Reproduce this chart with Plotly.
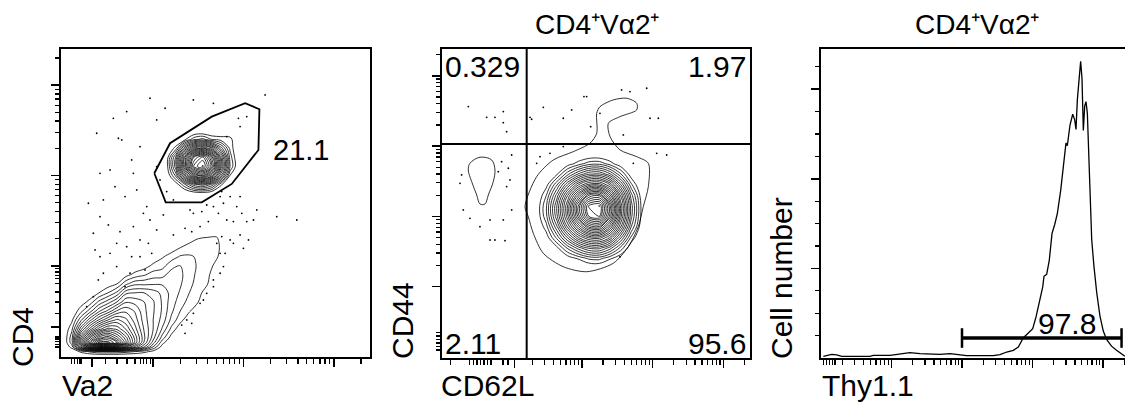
import numpy as np
import plotly.graph_objects as go

FONT = "Arial, Liberation Sans, sans-serif"
W, H = 1125, 413
FS = 30
FS_TITLE = 28

# ---------------- Panel 1 : Va2 (x) vs CD4 (y); values in decade display units ----------------
P1_LOW_X = [2.0, 2.1, 2.2, 2.3, 2.4, 2.5, 2.6, 2.7, 2.8, 2.9, 3.0, 3.1, 3.2, 3.3, 3.4, 3.5, 3.6, 3.7, 3.8, 3.9]
P1_LOW_Y = [2.0, 2.05, 2.1, 2.15, 2.2, 2.3, 2.4, 2.5, 2.6, 2.7, 2.8, 2.9, 3.0, 3.1, 3.2, 3.3, 3.4, 3.5]
# contour depth (number of enclosing contour lines), one list per x column, bottom to top
P1_LOW_DEPTH_BY_COLUMN = [
    [0, 0, 0, 0, 0, 0, 0, 0, 0, 0, 0, 0, 0, 0, 0, 0, 0, 0],
    [0, 0.2, 1.3, 2.2, 2.3, 1.6, 0.8, 0.2, 0, 0, 0, 0, 0, 0, 0, 0, 0, 0],
    [0, 1.2, 6, 9, 8.5, 5.5, 3.2, 1.5, 0.5, 0, 0, 0, 0, 0, 0, 0, 0, 0],
    [0, 2, 10, 15, 13, 8.5, 5.5, 3, 1.3, 0.3, 0, 0, 0, 0, 0, 0, 0, 0],
    [0, 2.5, 12, 19, 16, 11, 7.5, 4.8, 2.8, 1.0, 0.2, 0, 0, 0, 0, 0, 0, 0],
    [0, 2.5, 12, 19, 17, 12.5, 9, 6, 3.8, 1.8, 0.5, 0, 0, 0, 0, 0, 0, 0],
    [0, 2.5, 11, 17, 15, 12, 10, 7.5, 5, 2.8, 1.0, 0.3, 0, 0, 0, 0, 0, 0],
    [0, 2.2, 9, 13, 12.5, 10.5, 9.2, 8, 6.5, 4.8, 2.4, 0.7, 0.1, 0, 0, 0, 0, 0],
    [0, 1.8, 7, 9.5, 9.5, 8.5, 7.8, 7.3, 6.3, 5, 3.2, 1.3, 0.3, 0, 0, 0, 0, 0],
    [0, 1.3, 5, 6.5, 6.8, 6.5, 6.2, 6.0, 5.8, 5.0, 3.2, 1.7, 0.6, 0, 0, 0, 0, 0],
    [0, 0.7, 2.5, 3.8, 4.5, 5, 5, 5.1, 5.1, 4.6, 3.3, 2.2, 1.2, 0.4, 0, 0, 0, 0],
    [0, 0, 0.6, 1.3, 2.2, 3.3, 3.9, 4.1, 4.1, 4.0, 3.3, 2.3, 1.5, 0.9, 0.2, 0, 0, 0],
    [0, 0, 0, 0.2, 0.6, 1.6, 2.4, 2.8, 3.0, 3.1, 3.1, 3.0, 2.3, 1.4, 0.5, 0, 0, 0],
    [0, 0, 0, 0, 0, 0.4, 1.3, 1.8, 2.2, 2.5, 2.7, 2.8, 2.6, 1.9, 1.0, 0.3, 0, 0],
    [0, 0, 0, 0, 0, 0, 0.4, 1.1, 1.5, 1.8, 2.0, 2.1, 2.1, 1.9, 1.4, 0.6, 0, 0],
    [0, 0, 0, 0, 0, 0, 0, 0.4, 1.0, 1.3, 1.5, 1.6, 1.7, 1.7, 1.5, 1.0, 0.3, 0],
    [0, 0, 0, 0, 0, 0, 0, 0, 0.1, 0.5, 1.05, 1.2, 1.3, 1.35, 1.35, 1.1, 0.4, 0],
    [0, 0, 0, 0, 0, 0, 0, 0, 0, 0, 0.1, 0.4, 0.8, 1.1, 1.2, 1.1, 0.6, 0],
    [0, 0, 0, 0, 0, 0, 0, 0, 0, 0, 0, 0, 0.1, 0.5, 0.6, 0.5, 0.2, 0],
    [0, 0, 0, 0, 0, 0, 0, 0, 0, 0, 0, 0, 0, 0, 0, 0, 0, 0],
]

P1_HIGH_X = [3.05, 3.15, 3.25, 3.35, 3.45, 3.55, 3.65, 3.75, 3.85, 3.95]
P1_HIGH_Y = [3.70, 3.80, 3.90, 4.00, 4.10, 4.20, 4.30, 4.40, 4.50, 4.60]
P1_HIGH_DEPTH_BY_ROW = [
    [0, 0, 0, 0, 0, 0, 0, 0, 0, 0],
    [0, 0, 0, 0, 0.4, 0.5, 0.25, 0, 0, 0],
    [0, 0, 0.5, 2.2, 4, 4.6, 3.4, 1.15, 0.1, 0],
    [0, 0.25, 2.5, 6.6, 10.2, 11.4, 9, 5, 1, 0],
    [0, 0.65, 4, 9.6, 14.8, 16.1, 13, 7.4, 2.35, 0.1],
    [0, 0.55, 3.7, 8.8, 13.4, 14.9, 11.8, 6.8, 2.05, 0],
    [0, 0, 1.3, 4.8, 7.6, 8.6, 6.8, 4, 1.5, 0],
    [0, 0, 0, 0.8, 2.05, 2.5, 1.6, 1.3, 1.2, 0.3],
    [0, 0, 0, 0, 0, 0, 0, 0.3, 0.4, 0],
    [0, 0, 0, 0, 0, 0, 0, 0, 0, 0],
]

P1_GATE_X = [3.013, 3.187, 3.649, 4.018, 4.176, 4.165, 3.870, 3.538, 3.139, 3.013]
P1_GATE_Y = [4.024, 4.357, 4.651, 4.800, 4.733, 4.282, 3.906, 3.703, 3.703, 4.024]
P1_GATE_LABEL = "21.1"
P1_GATE_LABEL_POS = (4.638, 4.282)

P1_DOTS_X = [2.375, 2.559, 2.615, 2.652, 2.707, 2.762, 2.855, 2.965, 3.039, 3.132, 2.412, 2.523, 2.578,
             2.689, 2.818, 2.892, 2.929, 2.283, 2.412, 2.504, 2.633, 2.781, 2.855, 2.947, 2.707, 2.523,
             2.412, 2.357, 2.596, 2.449, 2.393, 2.762, 2.984, 3.039, 3.224, 3.353, 3.427, 3.445, 3.519,
             3.611, 3.667, 3.722, 3.778, 3.815, 3.888, 3.925, 3.981, 4.036, 4.110, 4.147, 3.962, 3.852,
             3.741, 3.759, 4.368, 4.590, 4.239, 4.036, 3.944, 3.962, 3.815, 3.039, 3.076, 3.593, 3.538,
             3.962, 4.055, 3.852, 3.796, 3.778, 3.741, 3.667, 3.593, 3.519, 3.445, 3.372, 3.316, 3.353,
             3.427, 3.556, 3.667, 3.741, 3.408, 3.224, 3.150, 3.113, 2.855, 2.910, 2.744, 2.689, 2.338,
             2.264, 3.759, 3.888, 3.999, 3.704, 2.596, 2.338, 2.965, 2.449, 2.781, 3.445, 3.667]
P1_DOTS_Y = [4.467, 4.633, 4.412, 4.393, 4.707, 4.172, 4.319, 4.855, 4.615, 4.744, 4.024, 4.061, 3.876,
             3.766, 3.840, 3.581, 3.655, 3.692, 3.544, 3.452, 3.378, 3.434, 3.286, 3.249, 3.212, 3.138,
             3.101, 3.175, 2.991, 2.917, 2.843, 3.101, 3.138, 3.397, 3.341, 3.415, 3.378, 3.581, 3.434,
             3.489, 3.655, 3.581, 3.692, 3.507, 3.489, 3.655, 3.581, 3.489, 3.507, 3.618, 3.766, 3.766,
             3.766, 3.821, 3.544, 3.507, 4.891, 4.652, 4.633, 4.541, 4.430, 4.098, 3.950, 3.673, 3.600,
             3.341, 3.286, 3.286, 3.138, 2.991, 2.917, 2.769, 2.695, 2.584, 2.473, 2.400, 2.344, 2.252,
             2.363, 2.621, 2.843, 3.138, 3.618, 3.729, 3.821, 3.563, 3.101, 2.954, 2.917, 2.769, 2.658,
             2.547, 3.323, 3.249, 3.193, 3.249, 3.249, 3.360, 3.507, 3.729, 4.024, 4.836, 4.799]

# ---------------- Panel 2 : CD62L (x) vs CD44 (y) ----------------
P2_OUTER_X = [2.199, 2.364, 2.599, 2.881, 3.117, 3.212, 3.212, 3.258, 3.446, 3.636, 3.777, 3.777, 3.541,
              3.376, 3.400, 3.541, 3.777, 3.941, 3.941, 3.870, 3.799, 3.658, 3.446, 3.071, 2.740, 2.458,
              2.316, 2.246, 2.199]
P2_OUTER_Y = [3.138, 3.565, 3.802, 3.920, 4.040, 4.182, 4.467, 4.560, 4.656, 4.680, 4.609, 4.514, 4.418,
              4.324, 4.134, 3.945, 3.849, 3.755, 3.422, 3.138, 2.853, 2.569, 2.333, 2.213, 2.284, 2.475,
              2.760, 2.996, 3.138]
P2_BLOB_X = [1.422, 1.564, 1.729, 1.775, 1.751, 1.681, 1.634, 1.564, 1.517, 1.446, 1.398, 1.422]
P2_BLOB_Y = [3.755, 3.841, 3.802, 3.660, 3.494, 3.304, 3.176, 3.176, 3.304, 3.494, 3.660, 3.755]

P2_GRID_X = [2.35, 2.5, 2.65, 2.8, 2.95, 3.1, 3.25, 3.4, 3.55, 3.7, 3.85, 4.0]
P2_GRID_Y = [2.25, 2.4, 2.55, 2.7, 2.85, 3.0, 3.15, 3.3, 3.45, 3.6, 3.75, 3.9]
P2_DEPTH_BY_ROW = [
    [0, 0, 0, 0, 0, 0, 0, 0, 0, 0, 0, 0],
    [0, 0, 0, 0.49, 1.06, 1.75, 1.84, 1.09, 0.36, 0, 0, 0],
    [0, 0, 0.79, 2.41, 3.88, 5.0, 5.14, 3.91, 2.08, 0.39, 0, 0],
    [0, 0.59, 2.53, 5.0, 7.42, 8.94, 9.14, 7.48, 4.44, 1.51, 0, 0],
    [0, 1.38, 4.12, 7.56, 10.62, 13.37, 13.8, 10.7, 6.9, 2.94, 0.36, 0],
    [0.21, 2.13, 5.38, 9.2, 13.56, 17.26, 17.9, 13.72, 8.44, 3.79, 0.65, 0],
    [0.25, 2.23, 5.56, 9.44, 14.07, 18.0, 18.6, 14.23, 8.66, 3.91, 0.7, 0],
    [0.02, 1.63, 4.54, 8.08, 11.43, 14.65, 15.1, 11.56, 7.4, 3.22, 0.46, 0],
    [0, 0.72, 2.88, 5.54, 8.06, 9.68, 9.9, 8.14, 4.96, 1.81, 0, 0],
    [0, 0, 0.92, 2.74, 4.32, 5.52, 5.68, 4.38, 2.4, 0.51, 0, 0],
    [0, 0, 0, 0.58, 1.27, 1.98, 2.07, 1.3, 0.45, 0, 0, 0],
    [0, 0, 0, 0, 0, 0, 0, 0, 0, 0, 0, 0],
]
P2_QUAD_X = 2.223
P2_QUAD_Y = 4.03
P2_QUADRANT_LABELS = ["0.329", "1.97", "2.11", "95.6"]

P2_DOTS_X = [1.399, 1.658, 1.775, 1.893, 1.893, 1.940, 2.270, 2.293, 2.458, 2.740, 2.858, 3.032, 3.127,
             3.258, 3.564, 3.682, 3.918, 3.965, 4.082, 3.588, 3.070, 1.304, 1.281, 1.328, 1.422, 1.705,
             1.893, 2.011, 1.940, 1.987, 1.869, 2.011, 1.705, 1.775, 1.917, 1.563, 1.822, 1.964, 2.364,
             2.411, 2.552, 2.740, 4.059, 4.200, 3.541, 3.729]
P2_DOTS_Y = [4.561, 4.409, 4.409, 4.490, 4.333, 4.205, 4.409, 4.381, 4.551, 4.395, 4.513, 4.703, 4.276,
             4.466, 4.798, 4.774, 4.822, 4.395, 4.395, 4.158, 4.703, 3.589, 3.470, 3.091, 2.972, 2.949,
             2.949, 3.091, 3.423, 3.518, 3.778, 3.873, 2.664, 2.664, 2.655, 2.854, 3.636, 3.684, 3.755,
             3.849, 3.897, 3.992, 3.897, 3.873, 2.427, 3.755]

# ---------------- Panel 3 : Thy1.1 histogram ----------------
P3_THY11 = [1.033, 1.152, 1.223, 1.294, 1.695, 1.742, 1.979, 2.121, 2.262, 2.404, 2.688, 2.830, 2.925,
            3.066, 3.444, 3.539, 3.634, 3.728, 3.799, 3.870, 3.941, 4.003, 4.050, 4.097, 4.145, 4.163,
            4.201, 4.238, 4.277, 4.315, 4.352, 4.400, 4.447, 4.475, 4.494, 4.532, 4.570, 4.598, 4.617,
            4.636, 4.664, 4.683, 4.702, 4.721, 4.740, 4.759, 4.778, 4.796, 4.816, 4.840, 4.872, 4.911,
            4.957, 5.004, 5.051, 5.121, 5.192, 5.263, 5.310]
P3_COUNT = [1.9, 4.1, 3.4, 1.9, 1.9, 3.0, 3.0, 4.9, 6.0, 4.9, 4.1, 4.9, 4.1, 2.6, 2.6, 3.7, 6.7, 8.6,
            12.3, 22.7, 27.9, 32.8, 45.8, 62.5, 79.3, 91.2, 93.4, 109, 139, 149, 161, 187, 217, 240, 237,
            260, 272, 266, 255, 288, 314, 331, 312, 254, 281, 286, 273, 232, 176, 132, 102, 72.8, 46.8,
            30, 20.7, 13.2, 8.6, 4.9, 1.9]
P3_GATE_X = [3.0, 5.263]
P3_GATE_COUNT = 22.3
P3_GATE_LABEL = "97.8"

# ---------------- figure ----------------
fig = go.Figure()
BLACK = [[0, "black"], [1, "black"]]


def contour(x, y, z, xa, ya, step):
    return go.Contour(x=x, y=y, z=z, xaxis=xa, yaxis=ya, colorscale=BLACK, showscale=False,
                      contours=dict(coloring="lines", start=1, end=20, size=step, showlabels=False),
                      line=dict(width=0.8, smoothing=1.0), hoverinfo="skip")


fig.add_trace(go.Scatter(x=P1_DOTS_X, y=P1_DOTS_Y, mode="markers", xaxis="x", yaxis="y",
                         marker=dict(size=1.8, color="black"), hoverinfo="skip"))
fig.add_trace(contour(P1_LOW_X, P1_LOW_Y, np.array(P1_LOW_DEPTH_BY_COLUMN).T, "x", "y", 0.8))
fig.add_trace(contour(P1_HIGH_X, P1_HIGH_Y, np.array(P1_HIGH_DEPTH_BY_ROW), "x", "y", 0.65))
fig.add_trace(go.Scatter(x=P1_GATE_X, y=P1_GATE_Y, mode="lines", xaxis="x", yaxis="y",
                         line=dict(color="black", width=1.8), hoverinfo="skip"))

fig.add_trace(go.Scatter(x=P2_DOTS_X, y=P2_DOTS_Y, mode="markers", xaxis="x2", yaxis="y2",
                         marker=dict(size=1.8, color="black"), hoverinfo="skip"))
fig.add_trace(contour(P2_GRID_X, P2_GRID_Y, np.array(P2_DEPTH_BY_ROW), "x2", "y2", 0.65))
fig.add_trace(go.Scatter(x=P2_OUTER_X, y=P2_OUTER_Y, mode="lines", xaxis="x2", yaxis="y2",
                         line=dict(color="black", width=0.8, shape="spline", smoothing=0.8),
                         hoverinfo="skip"))
fig.add_trace(go.Scatter(x=P2_BLOB_X, y=P2_BLOB_Y, mode="lines", xaxis="x2", yaxis="y2",
                         line=dict(color="black", width=0.8, shape="spline", smoothing=1.0),
                         hoverinfo="skip"))

fig.add_trace(go.Scatter(x=P3_THY11, y=P3_COUNT, mode="lines", xaxis="x3", yaxis="y3",
                         line=dict(color="black", width=1.3), hoverinfo="skip"))
fig.add_trace(go.Scatter(x=P3_GATE_X, y=[P3_GATE_COUNT] * 2, mode="lines+markers", xaxis="x3",
                         yaxis="y3", line=dict(color="black", width=3.5),
                         marker=dict(symbol="line-ns", size=14, line=dict(color="black", width=2.5)),
                         hoverinfo="skip"))

K = [2, 3, 4, 5, 6, 7, 8, 9]


def log_minors(decades):
    return [d + np.log10(k) for d in decades for k in K]


def axis(domain, rng, major, minor, anchor, mirror=True):
    return dict(domain=domain, range=rng, anchor=anchor, showline=True, linecolor="black",
                linewidth=2, mirror=mirror, ticks="outside", tickmode="array", tickvals=major,
                ticklen=8, tickwidth=1.6, tickcolor="black", showticklabels=False, showgrid=False,
                zeroline=False, fixedrange=True,
                minor=dict(tickmode="array", tickvals=minor, ticks="outside", ticklen=4.5,
                           tickwidth=1.3, tickcolor="black", showgrid=False))


P1_BIEX_MINOR = [2.10, 2.13, 2.16, 2.19, 2.21, 2.47, 2.60, 2.71, 2.80, 2.86, 2.89, 2.93, 2.97]
p1_minor = P1_BIEX_MINOR + log_minors([3, 4]) + [5.301]
p2x_minor = [1.15, 1.42, 1.47, 1.52, 1.57, 1.62, 1.67, 1.72, 1.89, 1.96] + log_minors([2, 3, 4]) + [5.301]
p2y_minor = [1.10, 1.15, 1.20, 1.25, 1.30, 1.35] + log_minors([2, 3, 4]) + [5.301]
p3x_minor = [1.04, 1.08, 1.12, 1.16, 1.20] + log_minors([1, 2, 3, 4]) + [5.301]

yd = [(H - 357) / H, (H - 49) / H]
yd2 = [(H - 358) / H, (H - 49) / H]
fig.update_layout(
    width=W, height=H, autosize=False, margin=dict(l=0, r=0, t=0, b=0, pad=0),
    paper_bgcolor="white", plot_bgcolor="white", showlegend=False,
    font=dict(family=FONT, size=FS, color="black"),
    xaxis=axis([61 / W, 370 / W], [1.98, 5.40], [2.32, 3, 4, 5], p1_minor, "y"),
    yaxis=axis(yd, [1.99, 5.40], [2.32, 3, 4, 5], p1_minor, "x"),
    xaxis2=axis([442 / W, 750 / W], [1.027, 5.377], [2.05, 3, 4, 5], p2x_minor, "y2"),
    yaxis2=axis(yd2, [0.986, 5.38], [2, 3, 4, 5], p2y_minor, "x2"),
    xaxis3=axis([821 / W, 1.0], [1.0, 5.312], [2, 3, 4, 5], p3x_minor, "y3"),
    yaxis3=axis(yd2, [0, 344.8], [100, 200, 300],
                [25, 50, 75, 125, 150, 175, 225, 250, 275, 325], "x3", mirror=False),
)

fig.add_shape(type="line", xref="x2", yref="y2 domain", x0=P2_QUAD_X, x1=P2_QUAD_X, y0=0, y1=1,
              line=dict(color="black", width=2))
fig.add_shape(type="line", xref="x2 domain", yref="y2", x0=0, x1=1, y0=P2_QUAD_Y, y1=P2_QUAD_Y,
              line=dict(color="black", width=2))

ann = []


def text(t, x, y, xref="paper", yref="paper", xa="center", ya="middle", angle=0, xs=0, ys=0,
         size=FS):
    ann.append(dict(text=t, x=x, y=y, xref=xref, yref=yref, xanchor=xa, yanchor=ya,
                    textangle=angle, showarrow=False, xshift=xs, yshift=ys, borderpad=0,
                    font=dict(family=FONT, size=size, color="black")))


TITLE = "CD4⁺Vα2⁺"
text(TITLE, 597 / W, (H - 25) / H, size=FS_TITLE)
text(TITLE, 977 / W, (H - 25) / H, size=FS_TITLE)
text("CD4", 22 / W, (H - 337) / H, angle=-90)
text("Va2", 61 / W, (H - 385) / H, xa="left")
text("CD44", 402 / W, (H - 321) / H, angle=-90)
text("CD62L", 440 / W, (H - 385) / H, xa="left")
text("Cell number", 782 / W, (H - 278) / H, angle=-90)
text("Thy1.1", 821 / W, (H - 385) / H, xa="left")
text(P1_GATE_LABEL, P1_GATE_LABEL_POS[0], P1_GATE_LABEL_POS[1], "x", "y", size=29)
text(P2_QUADRANT_LABELS[0], 0.0, 1.0, "x2 domain", "y2 domain", "left", "top", xs=2, ys=0)
text(P2_QUADRANT_LABELS[1], 1.0, 1.0, "x2 domain", "y2 domain", "right", "top", xs=-3, ys=0)
text(P2_QUADRANT_LABELS[2], 0.0, 0.0, "x2 domain", "y2 domain", "left", "bottom", xs=2, ys=-3)
text(P2_QUADRANT_LABELS[3], 1.0, 0.0, "x2 domain", "y2 domain", "right", "bottom", xs=-3, ys=-3)
text(P3_GATE_LABEL, 4.496, 38.8, "x3", "y3")
fig.update_layout(annotations=ann)

fig.write_html("out.html", config={"displayModeBar": False, "staticPlot": True},
               post_script="document.body.style.margin='0px';document.body.style.overflow='hidden';")
